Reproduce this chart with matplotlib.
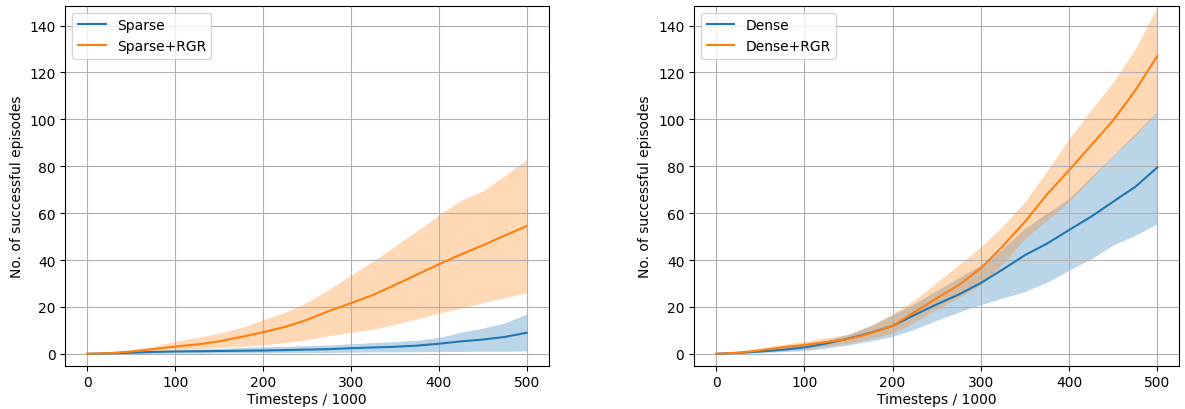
import numpy as np
import matplotlib
matplotlib.use("Agg")
import matplotlib.pyplot as plt

steps = np.arange(0, 501, 25)

# left panel: sparse reward
sparse_mean = [0, 0.2, 0.5, 0.8, 1.0, 1.1, 1.2, 1.3, 1.4, 1.6, 1.8, 2.0, 2.4, 2.7, 3.0, 3.5, 4.3, 5.3, 6.1, 7.2, 9.0]
sparse_hi = [0, 0.4, 0.9, 1.3, 1.6, 2.0, 2.3, 2.7, 3.0, 3.2, 3.5, 3.8, 4.3, 4.8, 5.2, 5.8, 7.0, 9.2, 11.0, 13.2, 17.0]
sparse_lo = [0, 0, 0.1, 0.2, 0.3, 0.3, 0.4, 0.4, 0.4, 0.5, 0.5, 0.6, 0.7, 0.8, 0.8, 0.9, 1.0, 1.0, 1.1, 1.1, 1.2]
sparse_rgr_mean = [0, 0.3, 1.0, 2.0, 3.1, 4.0, 5.3, 7.2, 9.2, 11.5, 14.5, 18.3, 21.6, 25.1, 29.4, 33.8, 38.2, 42.4, 46.3, 50.5, 54.5]
sparse_rgr_hi = [0, 0.5, 1.6, 3.2, 5.3, 7.0, 8.8, 11.2, 14.5, 17.7, 22.0, 27.5, 33.6, 39.5, 46.0, 52.5, 59.1, 65.5, 69.5, 76.0, 83.0]
sparse_rgr_lo = [0, 0.1, 0.4, 0.9, 1.6, 2.1, 2.7, 3.2, 3.8, 4.8, 6.0, 7.8, 9.1, 10.5, 12.5, 14.9, 17.3, 19.5, 21.8, 24.0, 26.0]

# right panel: dense reward
dense_mean = [0, 0.4, 1.0, 1.7, 2.7, 4.4, 6.5, 9.0, 11.9, 16.6, 21.1, 25.3, 30.2, 36.0, 42.1, 47.0, 52.8, 58.5, 64.9, 71.2, 79.5]
dense_hi = [0, 0.6, 1.5, 2.8, 4.0, 5.8, 8.3, 12.0, 16.6, 21.5, 27.0, 32.5, 37.9, 45.0, 53.5, 60.0, 66.3, 75.5, 84.7, 94.0, 103.5]
dense_lo = [0, 0.2, 0.5, 0.9, 1.3, 2.5, 3.8, 5.5, 7.4, 10.5, 14.3, 17.8, 21.0, 23.8, 26.6, 30.5, 35.7, 40.5, 46.4, 50.5, 55.5]
dense_rgr_mean = [0, 0.5, 1.5, 2.8, 3.8, 5.0, 6.3, 8.8, 11.9, 17.8, 23.7, 29.3, 36.5, 46.0, 56.3, 68.0, 78.3, 88.9, 99.6, 112.3, 127.0]
dense_rgr_hi = [0, 0.8, 2.3, 4.0, 5.3, 6.8, 8.4, 12.0, 17.0, 23.0, 30.5, 38.0, 45.7, 54.5, 64.9, 78.0, 91.8, 104.0, 115.9, 130.0, 148.0]
dense_rgr_lo = [0, 0.3, 0.9, 1.5, 2.1, 3.3, 4.6, 6.5, 8.8, 13.5, 19.0, 24.0, 29.4, 38.5, 49.2, 57.0, 64.9, 74.5, 84.7, 93.0, 103.0]

panels = [
    ("Sparse", sparse_mean, sparse_lo, sparse_hi, sparse_rgr_mean, sparse_rgr_lo, sparse_rgr_hi),
    ("Dense", dense_mean, dense_lo, dense_hi, dense_rgr_mean, dense_rgr_lo, dense_rgr_hi),
]

fig = plt.figure(figsize=(11.85, 4.1), dpi=100)
ax1 = fig.add_axes([0.0551, 0.106, 0.408, 0.8777])
ax2 = fig.add_axes([0.5857, 0.106, 0.4095, 0.8777])

for ax, (name, m, lo, hi, rm, rlo, rhi) in zip([ax1, ax2], panels):
    ax.plot(steps, m, color="C0", label=name)
    ax.fill_between(steps, lo, hi, color="C0", alpha=0.3, linewidth=0)
    ax.plot(steps, rm, color="C1", label=name + "+RGR")
    ax.fill_between(steps, rlo, rhi, color="C1", alpha=0.3, linewidth=0)
    ax.set_xlim(-25, 525)
    ax.set_ylim(-5, 148.5)
    ax.set_xticks([0, 100, 200, 300, 400, 500])
    ax.set_yticks(range(0, 141, 20))
    ax.grid(True)
    ax.set_xlabel("Timesteps / 1000", labelpad=2)
    ax.set_ylabel("No. of successful episodes")
    ax.legend(loc="upper left")

fig.savefig("out.png", dpi=100)
